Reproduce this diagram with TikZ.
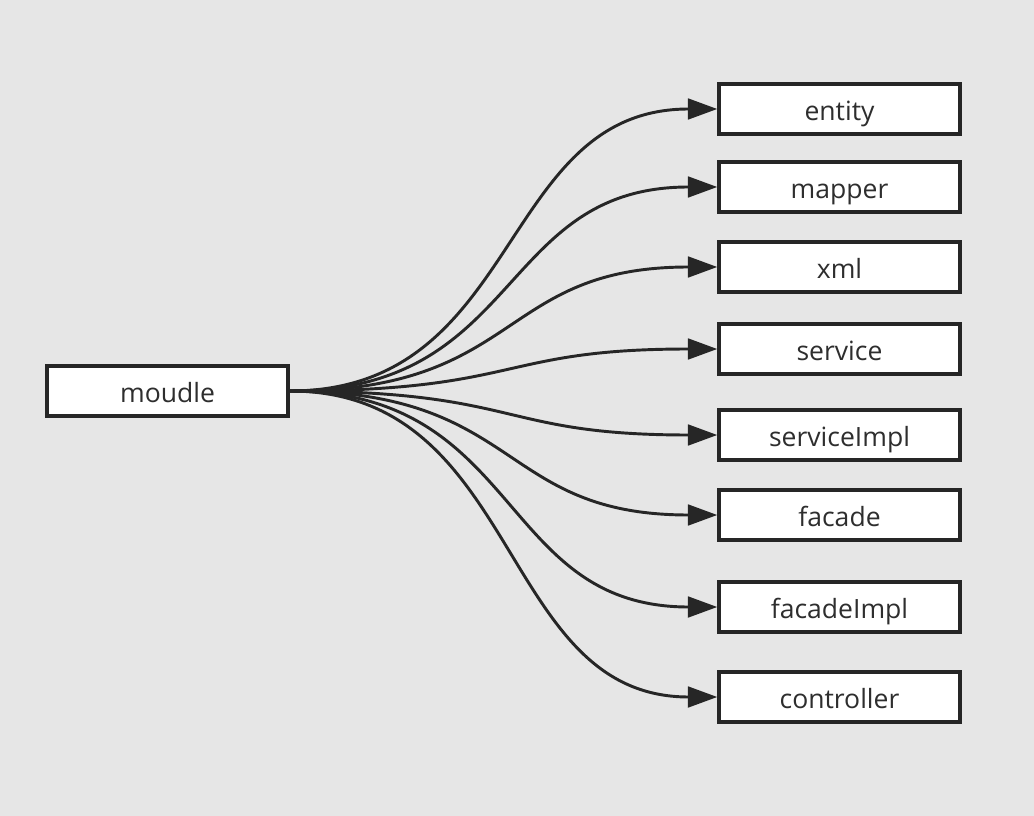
\documentclass[tikz,border=0pt]{standalone}
\usepackage{fontspec}
\setmainfont{Open Sans}
\usetikzlibrary{arrows.meta}
\definecolor{bg}{HTML}{E6E6E6}
\definecolor{ink}{HTML}{262626}
\definecolor{txt}{HTML}{2E2E2E}
\tikzset{
  box/.style={draw=ink, fill=white, line width=2.6pt, minimum width=241*0.75pt, minimum height=50*0.75pt, inner sep=0pt, text height=18pt, text depth=0.1pt, font=\fontsize{19.9pt}{22pt}\selectfont, text=txt},
  link/.style={draw=ink, line width=2.2pt, -{Triangle[length=22pt, width=15.5pt]}},
}
\begin{document}
\begin{tikzpicture}[x=0.75pt, y=-0.75pt]
\fill[bg] (0,0) rectangle (1034,816);
\useasboundingbox (0,0) rectangle (1034,816);
\node[box] (m) at (167.5,391) {moudle};
\node[box] (t1) at (839.5,109) {entity};
\node[box] (t2) at (839.5,187) {mapper};
\node[box] (t3) at (839.5,267) {xml};
\node[box] (t4) at (839.5,349) {service};
\node[box] (t5) at (839.5,435) {serviceImpl};
\node[box] (t6) at (839.5,515) {facade};
\node[box] (t7) at (839.5,607) {facadeImpl};
\node[box] (t8) at (839.5,697) {controller};
\foreach \i in {1,...,8} {
  \draw[link] (m.east) .. controls ([xshift=175]m.east) and ([xshift=-165]t\i.west) .. (t\i.west);
}
\end{tikzpicture}
\end{document}
